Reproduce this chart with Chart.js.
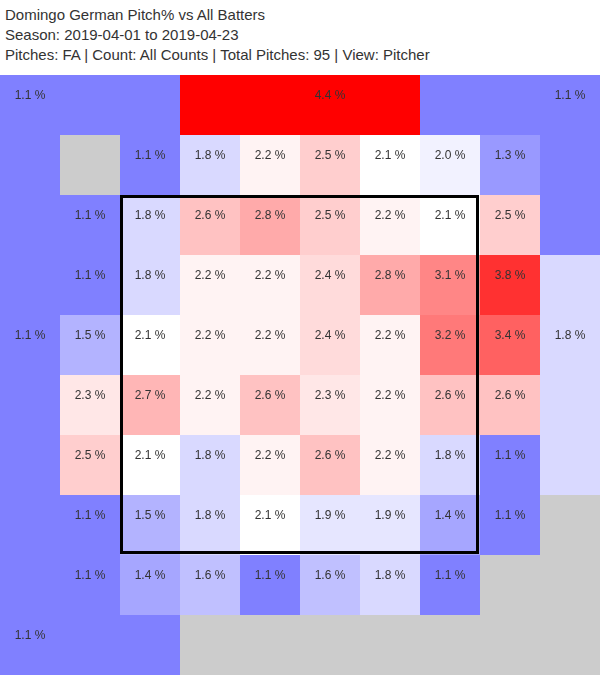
<!DOCTYPE html>
<html>
<head>
<meta charset="utf-8">
<script src="https://cdn.jsdelivr.net/npm/chart.js@4"></script>
<style>
  body { margin: 0; background: #fff; }
  .title { height: 75px; box-sizing: border-box; padding: 5px 0 0 5px; font: 15px Arial, "Liberation Sans", sans-serif; line-height: 20px; color: #333; }
  .wrap { position: relative; width: 600px; height: 600px; }
</style>
</head>
<body>
<div class="title">
  <div>Domingo German Pitch% vs All Batters</div>
  <div>Season: 2019-04-01 to 2019-04-23</div>
  <div>Pitches: FA | Count: All Counts | Total Pitches: 95 | View: Pitcher</div>
</div>
<div class="wrap"><canvas id="zoneChart"></canvas></div>
<script>
// zone columns, left to right (pitcher view)
const columns = ["c0", "c1", "c2", "c3", "c4", "c5", "c6", "c7", "c8", "c9"];

// pitch % per grid cell, top row first; null = no pitches (gray)
const row0 = [1.1, 1.1, 1.1, 4.4, 4.4, 4.4, 4.4, 1.1, 1.1, 1.1];
const row1 = [1.1, null, 1.1, 1.8, 2.2, 2.5, 2.1, 2.0, 1.3, 1.1];
const row2 = [1.1, 1.1, 1.8, 2.6, 2.8, 2.5, 2.2, 2.1, 2.5, 1.1];
const row3 = [1.1, 1.1, 1.8, 2.2, 2.2, 2.4, 2.8, 3.1, 3.8, 1.8];
const row4 = [1.1, 1.5, 2.1, 2.2, 2.2, 2.4, 2.2, 3.2, 3.4, 1.8];
const row5 = [1.1, 2.3, 2.7, 2.2, 2.6, 2.3, 2.2, 2.6, 2.6, 1.8];
const row6 = [1.1, 2.5, 2.1, 1.8, 2.2, 2.6, 2.2, 1.8, 1.1, 1.8];
const row7 = [1.1, 1.1, 1.5, 1.8, 2.1, 1.9, 1.9, 1.4, 1.1, null];
const row8 = [1.1, 1.1, 1.4, 1.6, 1.1, 1.6, 1.8, 1.1, null, null];
const row9 = [1.1, 1.1, 1.1, null, null, null, null, null, null, null];
const gridRows = [row0, row1, row2, row3, row4, row5, row6, row7, row8, row9];

// which cells print their value (outer zones print once)
const labelMask = [
  "L....L...L",
  "..LLLLLLL.",
  ".LLLLLLLL.",
  ".LLLLLLLL.",
  "LLLLLLLLLL",
  ".LLLLLLLL.",
  ".LLLLLLLL.",
  ".LLLLLLLL.",
  ".LLLLLLL..",
  "L.........",
];

// strike zone in grid units (first/last column and row)
const zoneCols = [2, 7];
const zoneRows = [2, 7];

function pctColor(v) {
  if (v === null) return "#cccccc";
  var c;
  if (v <= 2.1) {
    c = Math.round(128 + 127 * Math.max(0, (v - 1.1) / 1.0));
    return "rgb(" + c + "," + c + ",255)";
  }
  c = Math.round(255 - 255 * Math.min(1, (v - 2.1) / 2.1));
  return "rgb(255," + c + "," + c + ")";
}

const datasets = gridRows.map(function (vals, r) {
  return {
    label: "row " + r,
    data: vals.map(function () { return [r, r + 1]; }),
    pct: vals,
    backgroundColor: vals.map(pctColor),
    borderWidth: 0,
    inflateAmount: 0,
    grouped: false,
    barPercentage: 1,
    categoryPercentage: 1,
  };
});

const cellLabels = {
  id: "cellLabels",
  afterDatasetsDraw: function (chart) {
    const ctx = chart.ctx;
    const y = chart.scales.y;
    ctx.save();
    ctx.font = "12px Arial, 'Liberation Sans', sans-serif";
    ctx.fillStyle = "#333";
    ctx.textAlign = "center";
    ctx.textBaseline = "middle";
    chart.data.datasets.forEach(function (ds, r) {
      chart.getDatasetMeta(r).data.forEach(function (bar, c) {
        if (labelMask[r][c] !== "L" || ds.pct[c] === null) return;
        ctx.fillText(ds.pct[c].toFixed(1) + " %", bar.x, y.getPixelForValue(r + 0.35));
      });
    });

    // strike zone box
    const x = chart.scales.x;
    const x0 = x.getPixelForValue(zoneCols[0] - 0.5);
    const x1 = x.getPixelForValue(zoneCols[1] + 0.5);
    const y0 = y.getPixelForValue(zoneRows[0]);
    const y1 = y.getPixelForValue(zoneRows[1] + 1);
    ctx.strokeStyle = "#000";
    ctx.lineWidth = 3;
    ctx.strokeRect(x0 + 1.5, y0 + 1.5, x1 - x0 - 4, y1 - y0 - 4);
    ctx.restore();
  },
};

new Chart(document.getElementById("zoneChart"), {
  type: "bar",
  data: { labels: columns, datasets: datasets },
  options: {
    responsive: true,
    maintainAspectRatio: false,
    animation: false,
    layout: { padding: 0 },
    scales: {
      x: { display: false, offset: true, grid: { display: false } },
      y: { display: false, min: 0, max: 10, reverse: true, grid: { display: false } },
    },
    plugins: {
      legend: { display: false },
      tooltip: { enabled: false },
      title: { display: false },
    },
  },
  plugins: [cellLabels],
});
</script>
</body>
</html>
